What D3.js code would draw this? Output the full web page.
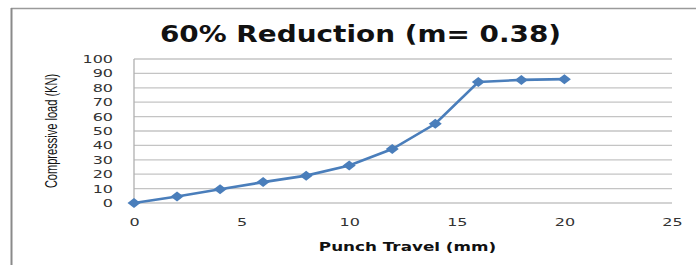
<!DOCTYPE html>
<html>
<head>
<meta charset="utf-8">
<script src="https://cdn.jsdelivr.net/npm/d3@7"></script>
<style>
  body { margin: 0; background: #fff; }
  svg { display: block; }
</style>
</head>
<body>
<div id="chart"></div>
<script>
// data
var travel = [0, 2, 4, 6, 8, 10, 12, 14, 16, 18, 20];
var load = [0, 4.5, 9.5, 14.5, 19, 26, 37.5, 55, 84, 85.5, 86];
var xTicks = [0, 5, 10, 15, 20, 25];
var yTicks = [0, 10, 20, 30, 40, 50, 60, 70, 80, 90, 100];

var svgWidth = 696;
var svgHeight = 265;

var margin = { top: 59, right: 24, bottom: 62, left: 134 };
var width = svgWidth - margin.left - margin.right;
var height = svgHeight - margin.top - margin.bottom;

var svg = d3.select("#chart")
  .append("svg")
  .attr("width", svgWidth)
  .attr("height", svgHeight);

// outer frame (top and left edge visible)
svg.append("line")
  .attr("x1", 11).attr("x2", svgWidth)
  .attr("y1", 8.5).attr("y2", 8.5)
  .attr("stroke", "#9a9a9a").attr("stroke-width", 1.5);
svg.append("line")
  .attr("x1", 11.5).attr("x2", 11.5)
  .attr("y1", 8).attr("y2", svgHeight)
  .attr("stroke", "#8a8a8a").attr("stroke-width", 2);

var chartGroup = svg.append("g")
  .attr("transform", `translate(${margin.left}, ${margin.top})`);

var x = d3.scaleLinear().domain([0, 25]).range([0, width]);
var y = d3.scaleLinear().domain([0, 100]).range([height, 0]);

// gridlines
chartGroup.append("g")
  .selectAll("line")
  .data(yTicks)
  .enter()
  .append("line")
  .attr("x1", 0)
  .attr("x2", width)
  .attr("y1", d => y(d))
  .attr("y2", d => y(d))
  .attr("stroke", "#c4c4c4")
  .attr("stroke-width", 1.3);

// y axis line
chartGroup.append("line")
  .attr("x1", 0).attr("x2", 0)
  .attr("y1", 0).attr("y2", height)
  .attr("stroke", "#b0b0b0").attr("stroke-width", 1.3);

var leftAxis = d3.axisLeft(y).tickValues(yTicks).tickSize(0);
var bottomAxis = d3.axisBottom(x).tickValues(xTicks).tickSize(0);

var yAxisG = chartGroup.append("g").call(leftAxis);
var xAxisG = chartGroup.append("g")
  .attr("transform", `translate(0, ${height})`)
  .call(bottomAxis);

// the tick labels in the picture are wide, so stretch them sideways
[yAxisG, xAxisG].forEach(function(g) {
  g.select(".domain").remove();
  g.selectAll("text")
    .attr("font-family", "DejaVu Sans, Verdana, sans-serif")
    .attr("font-size", "10px")
    .attr("fill", "#333")
    .attr("x", 0)
    .attr("y", 0)
    .attr("dy", "0.35em");
});
yAxisG.selectAll("text").attr("transform", "translate(-21, 0) scale(1.6, 1)");
xAxisG.selectAll("text")
  .attr("text-anchor", "middle")
  .attr("transform", "translate(0, 19.5) scale(1.6, 1)");

// the series
var pts = travel.map((t, i) => [t, load[i]]);

chartGroup.append("path")
  .datum(pts)
  .attr("fill", "none")
  .attr("stroke", "#4a7ebb")
  .attr("stroke-width", 2.6)
  .attr("d", d3.line().x(d => x(d[0])).y(d => y(d[1])));

chartGroup.selectAll(".marker")
  .data(pts)
  .enter()
  .append("path")
  .attr("class", "marker")
  .attr("transform", d => `translate(${x(d[0])}, ${y(d[1])})`)
  .attr("d", "M0,-5 L6.5,0 L0,5 L-6.5,0 Z")
  .attr("fill", "#4a7ebb");

// title
svg.append("text")
  .attr("transform", "translate(360.5, 41.5) scale(1.24, 1)")
  .attr("text-anchor", "middle")
  .attr("font-family", "DejaVu Sans, Verdana, sans-serif")
  .attr("font-weight", "bold")
  .attr("font-size", "22.5px")
  .attr("fill", "#111")
  .text("60% Reduction (m= 0.38)");

// axis titles
svg.append("text")
  .attr("transform", "translate(407.5, 250.5) scale(1.4, 1)")
  .attr("text-anchor", "middle")
  .attr("font-family", "DejaVu Sans, Verdana, sans-serif")
  .attr("font-weight", "bold")
  .attr("font-size", "12px")
  .attr("fill", "#111")
  .text("Punch Travel (mm)");

// narrow, tall lettering on the y title
svg.append("text")
  .attr("transform", "translate(57, 131) rotate(-90) scale(0.7, 1)")
  .attr("text-anchor", "middle")
  .attr("font-family", "Liberation Sans, Arial, sans-serif")
  .attr("font-size", "15.8px")
  .attr("fill", "#111")
  .text("Compressive load (KN)");
</script>
</body>
</html>
